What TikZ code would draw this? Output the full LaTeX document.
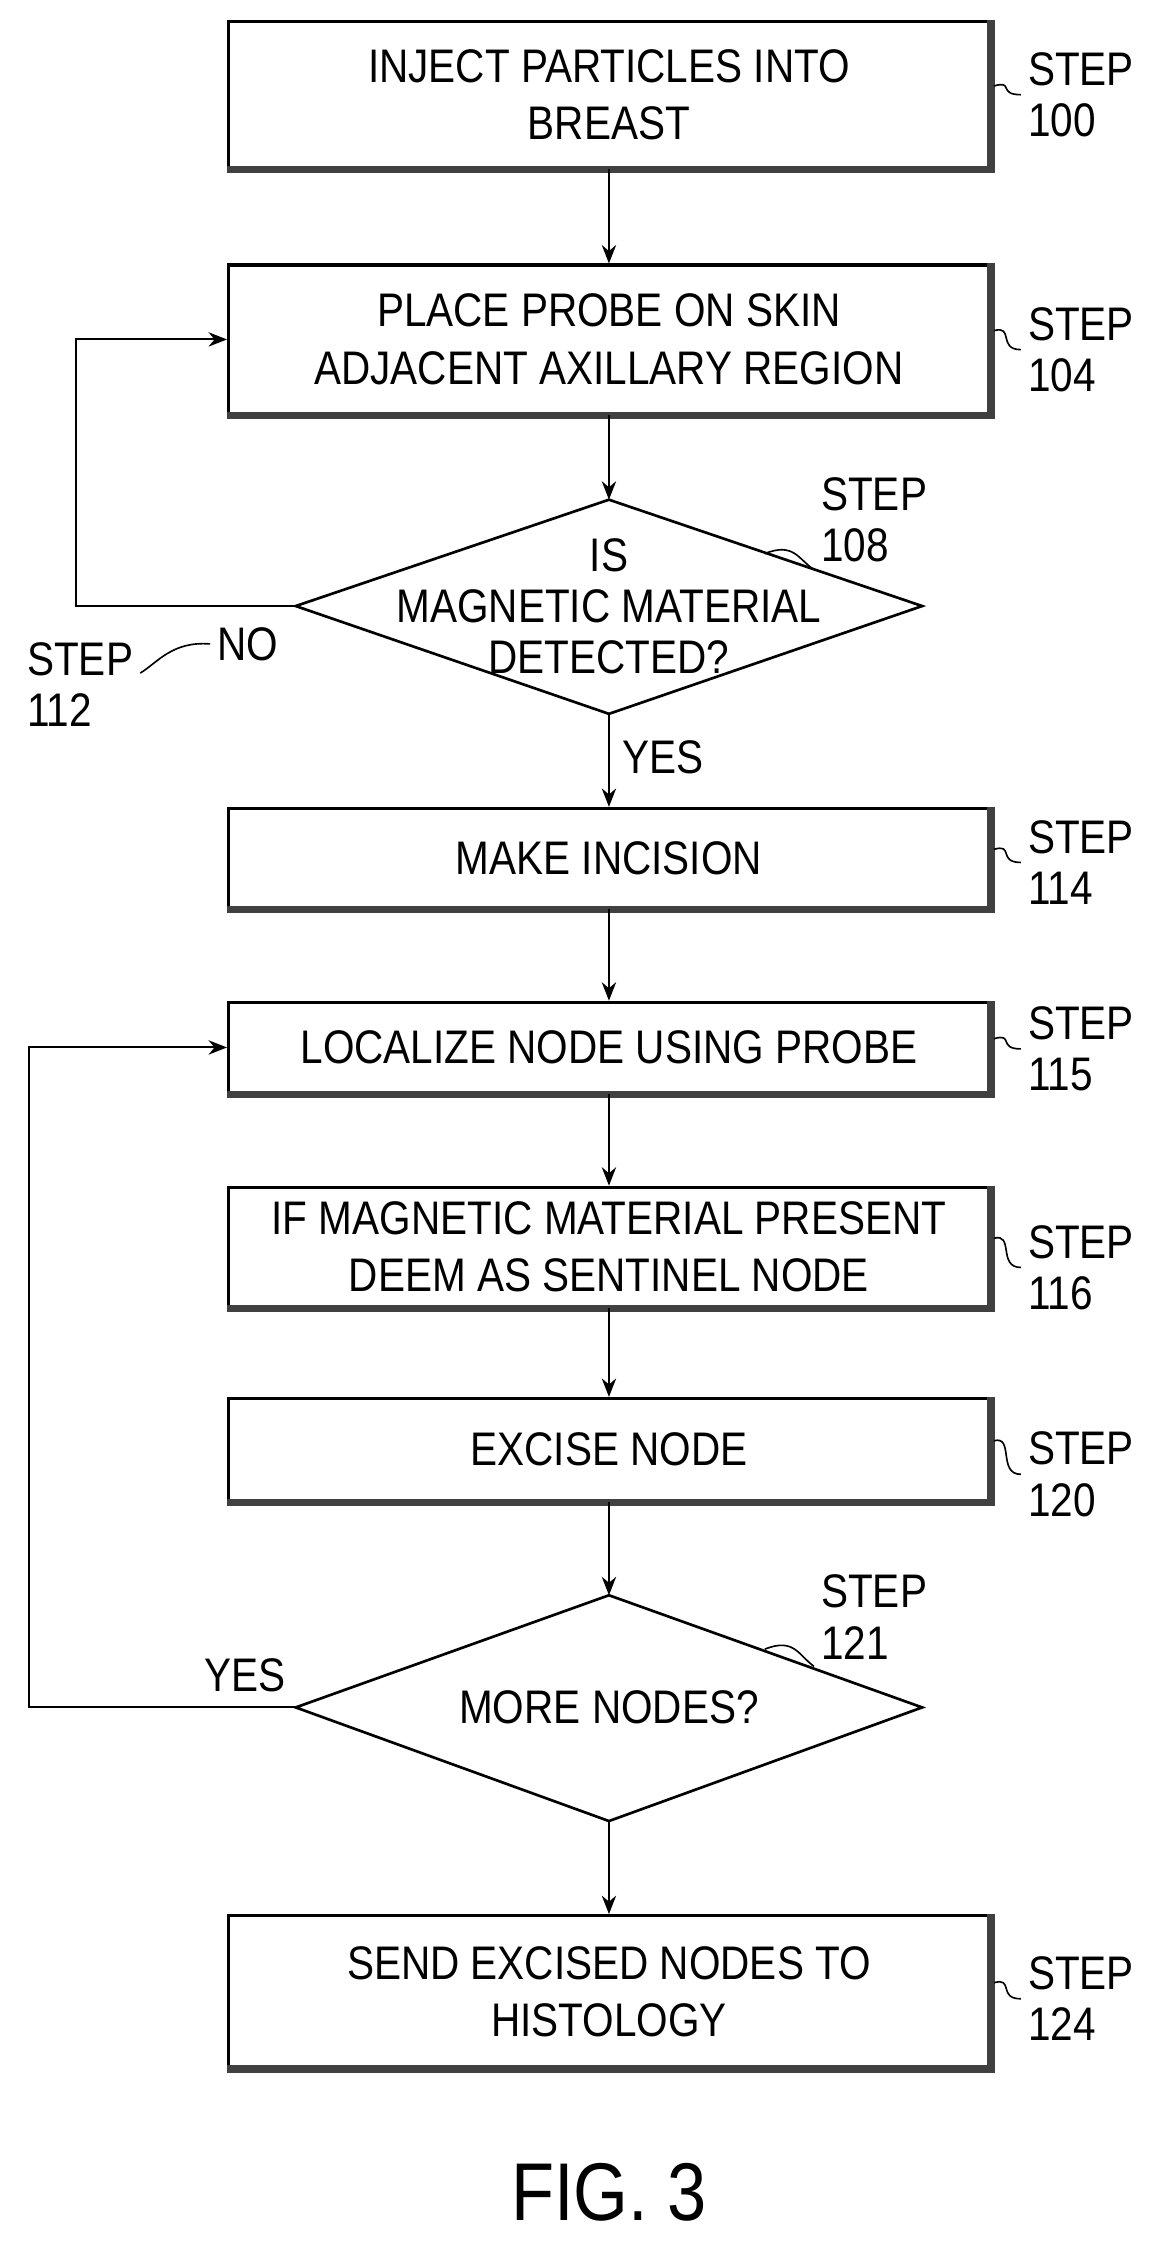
\documentclass[tikz,border=0pt]{standalone}
\usepackage{fontspec}
\setmainfont{Liberation Sans}[FakeStretch=0.86]
\usetikzlibrary{arrows.meta}
\begin{document}
\begin{tikzpicture}[x=0.025cm,y=-0.025cm,
    box/.style={draw,line width=1.6pt,minimum width=13.05cm,align=center,
      font=\fontsize{23}{28}\selectfont},
    lbl/.style={align=left,font=\fontsize{23}{25}\selectfont},
    flow/.style={-{Stealth[length=9pt,width=7pt]},line width=1pt},
    lead/.style={line width=0.8pt},
    shade/.style={line width=3.5pt,black!75}]
    \useasboundingbox (0,0) rectangle (800,1552);

    % boxes
    \node[box,minimum height=2.5cm] (inject) at (418,65) {INJECT PARTICLES INTO\\BREAST};
    \node[box,minimum height=2.55cm] (probe) at (418,233) {PLACE PROBE ON SKIN\\ADJACENT AXILLARY REGION};
    \node[box,minimum height=1.7cm] (incision) at (418,589) {MAKE INCISION};
    \node[box,minimum height=1.55cm] (localize) at (418,719) {LOCALIZE NODE USING PROBE};
    \node[box,minimum height=2.05cm] (deem) at (418,856) {IF MAGNETIC MATERIAL PRESENT\\DEEM AS SENTINEL NODE};
    \node[box,minimum height=1.75cm] (excise) at (418,995) {EXCISE NODE};
    \node[box,minimum height=2.6cm] (send) at (418,1367) {SEND EXCISED NODES TO\\HISTOLOGY};
    \foreach \nm in {inject,probe,incision,localize,deem,excise,send}
      \draw[shade] (\nm.north east) -- (\nm.south east) -- (\nm.south west);

    % decisions
    \coordinate (d1t) at (418,343); \coordinate (d1b) at (418,490);
    \coordinate (d1l) at (203,416); \coordinate (d1r) at (633,416);
    \draw[line width=1.3pt] (d1t) -- (d1r) -- (d1b) -- (d1l) -- cycle;
    \node[lbl,align=center] (detect) at (418,416) {IS\\MAGNETIC MATERIAL\\DETECTED?};
    \coordinate (d2t) at (418,1095); \coordinate (d2b) at (418,1250);
    \coordinate (d2l) at (203,1172); \coordinate (d2r) at (633,1172);
    \draw[line width=1.3pt] (d2t) -- (d2r) -- (d2b) -- (d2l) -- cycle;
    \node[lbl] (more) at (418,1172) {MORE NODES?};

    % connectors
    \draw[flow] (inject) -- (probe);
    \draw[flow] (probe) -- (d1t);
    \draw[flow] (d1b) -- (incision);
    \draw[flow] (incision) -- (localize);
    \draw[flow] (localize) -- (deem);
    \draw[flow] (deem) -- (excise);
    \draw[flow] (excise) -- (d2t);
    \draw[flow] (d2b) -- (send);
    \draw[flow] (d1l) -- (52,416) |- (probe.west);
    \draw[flow] (d2l) -- (20,1172) |- (localize.west);
    \node[lbl] (yes1) at (455,520) {YES};
    \node[lbl] (no1) at (170,442) {NO};
    \node[lbl] (yes2) at (168,1150) {YES};

    % step labels
    \foreach \nm/\y/\num in {inject/65/100,probe/240/104,incision/592/114,localize/720/115,
        deem/870/116,excise/1012/120,send/1372/124} {
      \node[lbl] (s\num) at (742,\y) {STEP\\\num};
      \draw[lead] (\nm.east) ++(2,-6) .. controls ++(14,-4) and ++(-16,0) .. (s\num.west);
    }
    \node[lbl] (s108) at (600,357) {STEP\\108};
    \draw[lead] (525,380) .. controls (545,372) and (548,384) .. (s108.south west);
    \node[lbl] (s121) at (600,1110) {STEP\\121};
    \draw[lead] (525,1132) .. controls (545,1124) and (548,1136) .. (s121.south west);
    \node[lbl] (s112) at (55,470) {STEP\\112};
    \draw[lead] (s112.east) ++(0,-8) .. controls (108,455) and (118,440) .. (no1.west);

    \node[font=\fontsize{40}{44}\selectfont] (fig) at (418,1505) {FIG. 3};
\end{tikzpicture}
\end{document}
